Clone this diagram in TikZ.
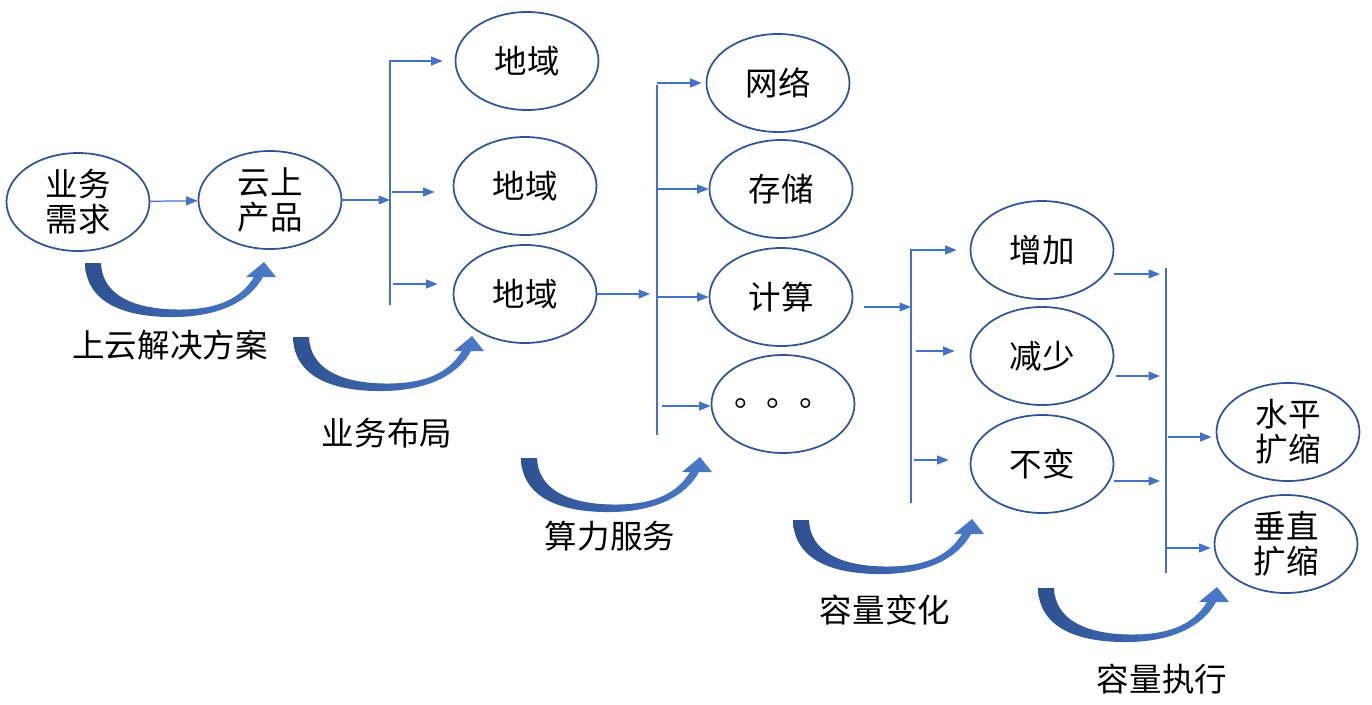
\documentclass[tikz,border=0pt]{standalone}
\usepackage{fontspec}
\newfontfamily\cjk{Noto Sans CJK SC}
\usetikzlibrary{shapes.geometric,arrows.meta,calc}
\definecolor{ringblue}{HTML}{2F5597}
\definecolor{lineblue}{HTML}{4472C4}
\definecolor{curldark}{HTML}{2E5090}
\definecolor{curllight}{HTML}{4A7BCB}

\begin{document}
\begin{tikzpicture}[
  ell/.style={draw=ringblue, line width=1pt, ellipse, minimum width=2.86cm, minimum height=1.96cm,
              inner sep=0pt, align=center, font=\cjk\fontsize{18.5}{20}\selectfont},
  lb/.style={inner sep=0pt, font=\cjk\fontsize{18.5}{20}\selectfont},
  ar/.style={draw=lineblue, line width=0.7pt, -{Triangle[length=2.3mm,width=1.8mm]}},
  trunk/.style={draw=lineblue, line width=0.7pt},
  curl/.style={left color=curldark, right color=curllight},
]
\useasboundingbox (0,0) rectangle (27.44,-14.08);

\node[ell] (need) at (1.56,-4.04) {业务\\需求};
\node[ell] (prod) at (5.40,-4.00) {云上\\产品};
\node[ell] (reg1) at (10.54,-1.22) {地域};
\node[ell] (reg2) at (10.50,-3.72) {地域};
\node[ell] (reg3) at (10.50,-5.88) {地域};
\node[ell] (net) at (15.56,-1.66) {网络};
\node[ell] (sto) at (15.62,-3.78) {存储};
\node[ell] (cmp) at (15.62,-5.94) {计算};
\node[ell] (more) at (15.66,-8.08) {。。。};
\node[ell] (inc) at (20.84,-5.00) {增加};
\node[ell] (dec) at (20.84,-7.12) {减少};
\node[ell] (keep) at (20.84,-9.28) {不变};
\node[ell] (hor) at (25.76,-8.64) {水平\\扩缩};
\node[ell] (ver) at (25.72,-10.88) {垂直\\扩缩};

\foreach \x/\y in {1.70/-5.26, 5.86/-6.74, 10.42/-9.16, 15.86/-10.40, 20.76/-11.76}
  \shade[curl, shift={(\x,\y)}] (0,0) .. controls (0.02,-0.80) and (0.80,-1.10) .. (1.84,-1.08)
    .. controls (2.70,-1.06) and (3.30,-0.76) .. (3.56,-0.28) -- (3.82,-0.28) -- (3.58,0.02)
    -- (3.22,-0.28) -- (3.38,-0.28) .. controls (3.10,-0.74) and (2.60,-0.94) .. (1.84,-0.93)
    .. controls (0.90,-0.92) and (0.34,-0.60) .. (0.32,0) -- cycle;

\node[lb] (lab1) at (3.40,-6.90) {上云解决方案};
\node[lb] (lab2) at (7.74,-8.66) {业务布局};
\node[lb] (lab3) at (12.20,-10.72) {算力服务};
\node[lb] (lab4) at (17.70,-12.20) {容量变化};
\node[lb] (lab5) at (23.24,-13.58) {容量执行};

\coordinate (t1) at (7.80,-1.22);
\coordinate (t1b) at (7.80,-6.10);
\coordinate (b2) at (7.84,-3.84);
\coordinate (b3) at (7.86,-5.68);
\draw[ar] (need) -- (prod);
\draw[ar] (prod) -- (prod -| t1);
\draw[ar, shorten >=0.24cm] (t1b) -- (t1) -- (t1 -| reg1.west);
\draw[ar, shorten >=0.36cm] (b2) -- (b2 -| reg2.west);
\draw[ar, shorten >=0.30cm] (b3) -- (b3 -| reg3.west);

\coordinate (t2) at (13.14,-1.70);
\coordinate (t2b) at (13.14,-8.70);
\coordinate (c1) at (13.14,-1.66);
\coordinate (c2) at (13.14,-3.78);
\coordinate (c3) at (13.14,-5.94);
\coordinate (c4) at (13.24,-8.12);
\draw[trunk] (t2) -- (t2b);
\draw[ar, shorten >=0.14cm] (reg3) -- (reg3 -| t2);
\draw[ar, shorten >=0.08cm] (c1) -- (c1 -| net.west);
\draw[ar] (c2) -- (c2 -| sto.west);
\draw[ar] (c3) -- (c3 -| cmp.west);
\draw[ar] (c4) -- (c4 -| more.west);

\coordinate (t3) at (18.22,-5.00);
\coordinate (t3b) at (18.22,-10.06);
\coordinate (d2) at (18.32,-7.02);
\coordinate (d3) at (18.28,-9.20);
\draw[ar] ($(cmp.east)+(0.22,-0.20)$) -- ($(cmp.east -| t3)+(0,-0.20)$);
\draw[ar, shorten >=0.26cm] (t3b) -- (t3) -- (t3 -| inc.west);
\draw[ar, shorten >=0.30cm] (d2) -- (d2 -| dec.west);
\draw[ar, shorten >=0.42cm] (d3) -- (d3 -| keep.west);

\coordinate (t4) at (23.32,-5.36);
\coordinate (t4b) at (23.32,-11.46);
\coordinate (e1) at (23.36,-8.74);
\coordinate (e2) at (23.32,-10.96);
\draw[trunk] (t4) -- (t4b);
\draw[ar, shorten >=0.12cm] ($(inc.east)+(0,-0.48)$) -- ($(inc.east -| t4)+(0,-0.48)$);
\draw[ar, shorten >=0.12cm] ($(dec.east)+(0.04,-0.40)$) -- ($(dec.east -| t4)+(0,-0.40)$);
\draw[ar, shorten >=0.12cm] ($(keep.east)+(0,-0.34)$) -- ($(keep.east -| t4)+(0,-0.34)$);
\draw[ar, shorten >=0.08cm] (e1) -- (e1 -| hor.west);
\draw[ar, shorten >=0.06cm] (e2) -- (e2 -| ver.west);
\end{tikzpicture}
\end{document}
